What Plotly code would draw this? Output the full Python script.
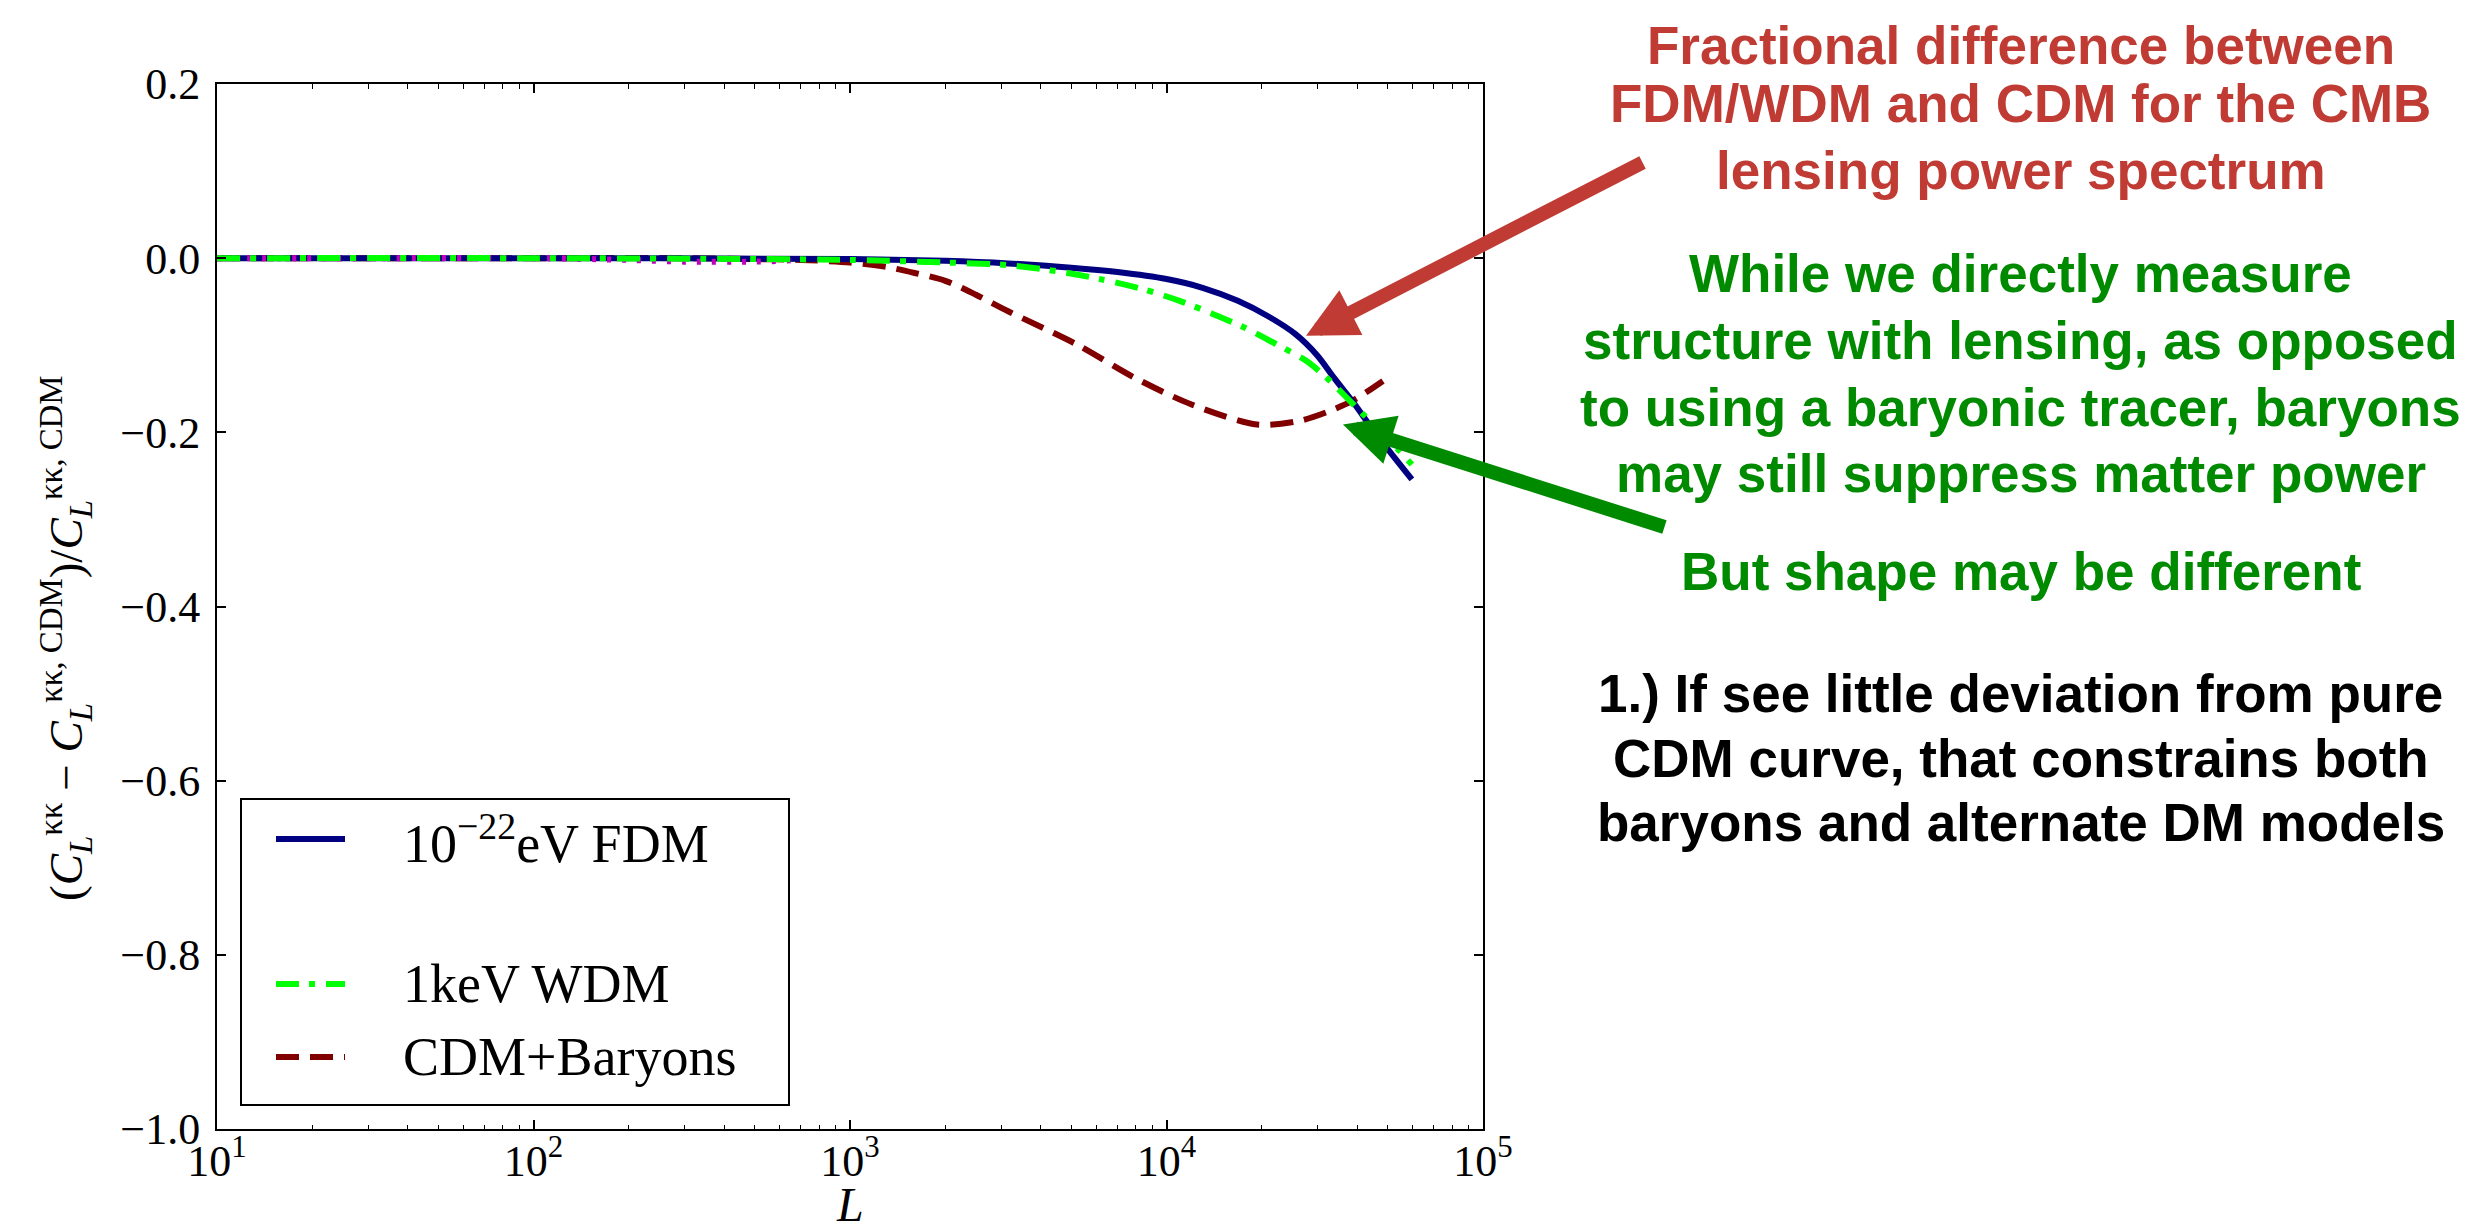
import math
import plotly.graph_objects as go

# ---------------- data ----------------
fdm_L = [10, 100, 1000, 2000, 3160, 5000, 7000, 10000, 13000, 16800, 21000, 25500,
         30000, 33600, 39000, 44500, 52000, 59600]
fdm_y = [0.0, 0.0, -0.001, -0.003, -0.006, -0.011, -0.016, -0.024, -0.034, -0.049,
         -0.067, -0.087, -0.112, -0.136, -0.166, -0.195, -0.227, -0.254]

wdm_L = [10, 100, 500, 1000, 2000, 3160, 4500, 6170, 8500, 11000, 14000, 17700,
         22000, 27700, 32000, 36600, 42000, 48300, 54000, 59600]
wdm_y = [0.0, 0.0, -0.001, -0.002, -0.005, -0.008, -0.015, -0.024, -0.036, -0.049,
         -0.064, -0.080, -0.098, -0.118, -0.137, -0.158, -0.180, -0.202, -0.220, -0.237]

bar_L = [10, 100, 300, 500, 700, 1000, 1300, 1600, 2000, 2500, 3160, 5200, 7900,
         12000, 19300, 26200, 32000, 38600, 48300]
bar_y = [0.0, 0.0, 0.0, -0.001, -0.002, -0.005, -0.010, -0.017, -0.026, -0.042,
         -0.061, -0.099, -0.137, -0.168, -0.191, -0.187, -0.177, -0.164, -0.141]

mag_L = [10, 30, 100, 200, 300, 500, 700]
mag_y = [0.0, 0.0, 0.0, -0.002, -0.004, -0.004, -0.002]

x_tickvals = [10, 100, 1000, 10000, 100000]
x_ticktext = ["10<sup>1</sup>", "10<sup>2</sup>", "10<sup>3</sup>", "10<sup>4</sup>", "10<sup>5</sup>"]
y_tickvals = [0.2, 0.0, -0.2, -0.4, -0.6, -0.8, -1.0]
y_ticktext = ["0.2", "0.0", "\u22120.2", "\u22120.4", "\u22120.6", "\u22120.8", "\u22121.0"]

legend_names = ["10<sup>\u221222</sup>eV FDM", "1keV WDM", "CDM+Baryons"]

red_lines = ["Fractional difference between", "FDM/WDM and CDM for the CMB",
             "lensing power spectrum"]
green_lines = ["While we directly measure", "structure with lensing, as opposed",
               "to using a baryonic tracer, baryons", "may still suppress matter power"]
green2_lines = ["But shape may be different"]
black_lines = ["1.) If see little deviation from pure", "CDM curve, that constrains both",
               "baryons and alternate DM models"]

# ---------------- layout geometry ----------------
W, H = 2489, 1227
PL, PR, PT, PB = 209, 1475, 76, 1121

def pxx(x):
    return (x - PL) / (PR - PL)

def pxy(y):
    return (PB - y) / (PB - PT)

NAVY = "#000080"
LIME = "#00FF00"
MAROON = "#800000"
MAGENTA = "#BF00BF"
RED = "#C03B33"
GREEN = "#008A00"
SERIF = "Liberation Serif"
SANS = "Liberation Sans"

fig = go.Figure()
fig.add_trace(go.Scatter(x=bar_L, y=bar_y, mode="lines", line_shape="spline",
                         line=dict(color=MAROON, width=6, dash="23px,11px", smoothing=0.8),
                         showlegend=False))
fig.add_trace(go.Scatter(x=fdm_L, y=fdm_y, mode="lines", line_shape="spline",
                         line=dict(color=NAVY, width=6, smoothing=0.8), showlegend=False))
fig.add_trace(go.Scatter(x=mag_L, y=mag_y, mode="lines", line_shape="spline",
                         line=dict(color=MAGENTA, width=6, dash="4px,11px", smoothing=0.8),
                         showlegend=False))
fig.add_trace(go.Scatter(x=wdm_L, y=wdm_y, mode="lines", line_shape="spline",
                         line=dict(color=LIME, width=6, dash="23px,10px,6px,11px", smoothing=0.8),
                         showlegend=False))

minor_vals = [m * 10 ** k for k in range(1, 5) for m in range(2, 10)]

fig.update_xaxes(type="log", range=[1, 5], tickmode="array", tickvals=x_tickvals,
                 ticktext=x_ticktext, ticks="inside", ticklen=9, tickwidth=1.5,
                 tickcolor="black", mirror="allticks", showline=True, linecolor="black",
                 linewidth=2, showgrid=False, zeroline=False, ticklabelstandoff=-8,
                 tickfont=dict(family=SERIF, size=44, color="black"),
                 minor=dict(tickmode="array", tickvals=minor_vals, ticks="inside",
                            ticklen=4.5, tickwidth=1.2, tickcolor="black", showgrid=False))
fig.update_yaxes(range=[-1.0, 0.2], tickmode="array", tickvals=y_tickvals,
                 ticktext=y_ticktext, ticks="inside", ticklen=9, tickwidth=1.5,
                 tickcolor="black", mirror="allticks", showline=True, linecolor="black",
                 linewidth=2, showgrid=False, zeroline=False, ticklabelstandoff=6,
                 tickfont=dict(family=SERIF, size=44, color="black"))

annotations = []
shapes = []

# axis titles
annotations.append(dict(xref="paper", yref="paper", x=pxx(842), y=pxy(1196),
                        text="<i>L</i>", showarrow=False, xanchor="center", yanchor="middle",
                        font=dict(family=SERIF, size=48, color="black")))
ytitle = ("(<i>C</i><sub><i>L</i></sub><sup>\u03ba\u03ba</sup> \u2212 "
          "<i>C</i><sub><i>L</i></sub><sup>\u03ba\u03ba, CDM</sup>)/"
          "<i>C</i><sub><i>L</i></sub><sup>\u03ba\u03ba, CDM</sup>")
annotations.append(dict(xref="paper", yref="paper", x=pxx(58), y=pxy(630), text=ytitle,
                        showarrow=False, textangle=-90, xanchor="center", yanchor="middle",
                        font=dict(family=SERIF, size=47, color="black")))

# legend (drawn by hand to match the reference layout)
shapes.append(dict(type="rect", xref="paper", yref="paper", x0=pxx(233), x1=pxx(781),
                   y0=pxy(1097), y1=pxy(791), line=dict(color="black", width=2),
                   fillcolor="white", layer="above"))
leg_y = [831, 976, 1049]
leg_col = [NAVY, LIME, MAROON]
leg_dash = ["solid", "23px,10px,6px,11px", "23px,11px"]
for yy, col, dsh, name in zip(leg_y, leg_col, leg_dash, legend_names):
    shapes.append(dict(type="line", xref="paper", yref="paper", x0=pxx(268), x1=pxx(337),
                       y0=pxy(yy), y1=pxy(yy), line=dict(color=col, width=6, dash=dsh),
                       layer="above"))
    annotations.append(dict(xref="paper", yref="paper", x=pxx(393), y=pxy(yy), text=name,
                            showarrow=False, xanchor="left", yanchor="middle",
                            font=dict(family=SERIF, size=54, color="black")))

# arrows
annotations.append(dict(x=math.log10(27600), y=-0.089, xref="x", yref="y", ax=338, ay=-174,
                        text="", showarrow=True, arrowhead=2, arrowsize=0.72, arrowwidth=14,
                        arrowcolor=RED))
annotations.append(dict(x=math.log10(36100), y=-0.191, xref="x", yref="y", ax=323, ay=103,
                        text="", showarrow=True, arrowhead=2, arrowsize=0.72, arrowwidth=14,
                        arrowcolor=GREEN))

# side text blocks
def add_lines(lines, ys, color):
    for t, yy in zip(lines, ys):
        annotations.append(dict(xref="paper", yref="paper", x=pxx(2013), y=pxy(yy),
                                text="<b>" + t + "</b>", showarrow=False, xanchor="center",
                                yanchor="middle",
                                font=dict(family=SANS, size=53, color=color)))

add_lines(red_lines, [37, 95, 163], RED)
add_lines(green_lines, [265, 332, 399, 466], GREEN)
add_lines(green2_lines, [563], GREEN)
add_lines(black_lines, [686, 750, 815], "black")

fig.update_layout(width=W, height=H, margin=dict(l=PL, r=W - PR, t=PT, b=H - PB),
                  plot_bgcolor="white", paper_bgcolor="white", showlegend=False,
                  annotations=annotations, shapes=shapes)

fig.write_html("out.html")
